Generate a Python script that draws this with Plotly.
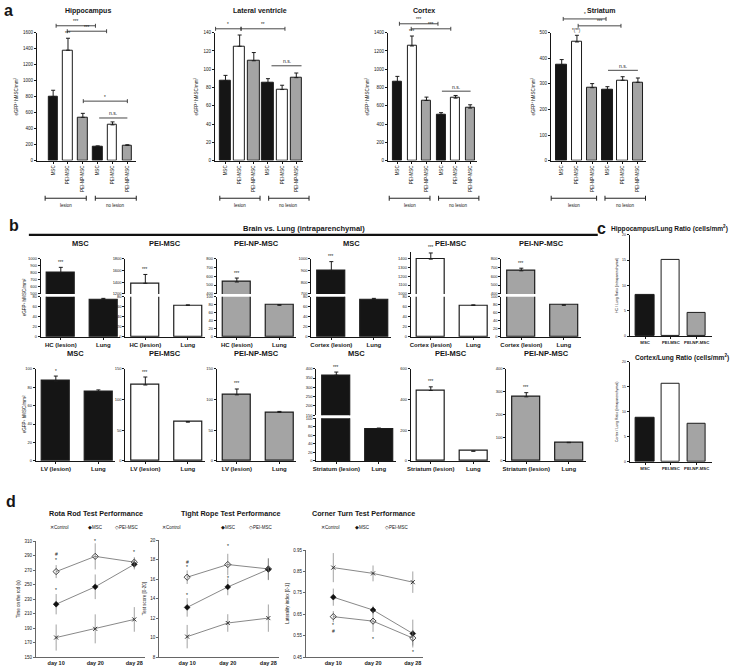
import plotly.graph_objects as go

W, H = 740, 672
FONT = "Liberation Sans, Arial, Helvetica, sans-serif"
INK = "#161616"
BLACK = "#151515"
WHITE = "#ffffff"
GREY = "#a4a4a4"

# ------------------------------------------------------------------ data
group_labels = ["MSC", "PEI-MSC", "PEI-NP-MSC", "MSC", "PEI-MSC", "PEI-NP-MSC"]
cell_types = ["MSC", "PEI-MSC", "PEI-NP-MSC"]
lesion_groups = ["lesion", "no lesion"]

# panel a (lesion MSC, PEI-MSC, PEI-NP-MSC, no lesion MSC, PEI-MSC, PEI-NP-MSC)
hippocampus = [802, 1381, 541, 174, 447, 190]
hippocampus_err = [78, 150, 50, 10, 37, 8]
lateral_ventricle = [87.5, 125.2, 109.3, 85.4, 77.8, 90.8]
lateral_ventricle_err = [5.8, 12.3, 9.0, 4.3, 4.7, 5.1]
cortex = [865, 1255, 658, 503, 684, 575]
cortex_err = [57, 109, 37, 22, 29, 36]
striatum = [375, 464, 285, 278, 314, 306]
striatum_err = [20, 26, 16, 11, 14, 17]

# panel b (MSC, PEI-MSC, PEI-NP-MSC)
b_hc = [802, 1381, 535]
b_hc_err = [75, 150, 45]
b_cortex = [900, 1395, 662]
b_cortex_err = [75, 70, 30]
b_lv = [86.5, 123.5, 107.5]
b_lv_err = [5.5, 13, 9.5]
b_striatum = [365, 458, 278]
b_striatum_err = [17, 24, 18]
lung = [75, 63, 79]
lung_err = [2, 1, 1.5]
lung_row2 = [75, 63, 79]
lung_row2_err = [2, 1, 1.5]

hc_lung_ratio = [8.2, 15.0, 4.6]
cortex_lung_ratio = [8.85, 15.6, 7.66]

days = ["day 10", "day 20", "day 28"]
treatments = ["Control", "MSC", "PEI-MSC"]
rota_control = [177, 189, 202]
rota_control_err = [18, 20, 17]
rota_msc = [223, 247, 278]
rota_msc_err = [14, 17, 7]
rota_pei = [268, 289, 281]
rota_pei_err = [9, 18, 7]
rope_control = [10.1, 11.5, 12.0]
rope_control_err = [1.2, 0.9, 1.4]
rope_msc = [13.1, 15.2, 17.0]
rope_msc_err = [0.95, 0.85, 1.1]
rope_pei = [16.2, 17.5, 17.05]
rope_pei_err = [0.7, 1.1, 1.1]
corner_control = [0.868, 0.841, 0.800]
corner_control_err = [0.068, 0.037, 0.05]
corner_msc = [0.730, 0.670, 0.560]
corner_msc_err = [0.04, 0.02, 0.065]
corner_pei = [0.639, 0.618, 0.539]
corner_pei_err = [0.026, 0.05, 0.035]

# ------------------------------------------------------------------ helpers
fig = go.Figure()
axes_layout = {}
shapes = []
annotations = []
_n = [0]


def base_axis(**kw):
    d = dict(showline=True, linecolor=INK, linewidth=1, ticks="outside", ticklen=2,
             tickwidth=0.8, tickcolor=INK, showgrid=False, zeroline=False,
             tickfont=dict(size=4.5, color=INK, family=FONT), fixedrange=True)
    d.update(kw)
    return d


def add_axes(x0, x1, top, bottom, xr, yr, xkw=None, ykw=None):
    _n[0] += 1
    s = "" if _n[0] == 1 else str(_n[0])
    xa = base_axis(domain=[x0 / W, x1 / W], range=xr, anchor="y" + s)
    ya = base_axis(domain=[1 - bottom / H, 1 - top / H], range=yr, anchor="x" + s)
    if xkw:
        xa.update(xkw)
    if ykw:
        ya.update(ykw)
    axes_layout["xaxis" + s] = xa
    axes_layout["yaxis" + s] = ya
    return dict(x="x" + s, y="y" + s, xr=xr, yr=yr, hpx=bottom - top, wpx=x1 - x0)


def fx(ax, v):
    return (v - ax["xr"][0]) / (ax["xr"][1] - ax["xr"][0])


def fy(ax, v):
    return (v - ax["yr"][0]) / (ax["yr"][1] - ax["yr"][0])


def text(s, x, y, size=5, bold=False, xref="paper", yref="paper", xanchor="center",
         yanchor="middle", angle=0, color=INK, **kw):
    annotations.append(dict(text=f"<b>{s}</b>" if bold else s, x=x, y=y, xref=xref, yref=yref,
                            xanchor=xanchor, yanchor=yanchor, showarrow=False, textangle=angle,
                            font=dict(size=size, family=FONT, color=color), borderpad=0, **kw))


def ptext(s, px, py, **kw):
    text(s, px / W, 1 - py / H, **kw)


def line(xref, yref, x0, y0, x1, y1, width=1, color="#222"):
    shapes.append(dict(type="line", xref=xref, yref=yref, x0=x0, y0=y0, x1=x1, y1=y1,
                       line=dict(color=color, width=width)))


def add_bars(ax, xs, vals, errs, colors, width, line_w=1):
    fig.add_trace(go.Bar(
        x=xs, y=vals, xaxis=ax["x"], yaxis=ax["y"], width=width,
        marker=dict(color=colors, line=dict(color="#1c1c1c", width=line_w)),
        error_y=dict(type="data", array=errs, arrayminus=[0] * len(errs), symmetric=False,
                     color="#1c1c1c", thickness=1, width=2),
        showlegend=False, hoverinfo="skip"))


def sig_bracket(ax, xa, xb, yv, label, caps=True, size=4.5):
    xd, yd = ax["x"] + " domain", ax["y"] + " domain"
    x0, x1, y0 = fx(ax, xa), fx(ax, xb), fy(ax, yv)
    line(xd, yd, x0, y0, x1, y0, width=0.9, color="#333")
    if caps:
        c = 2.0 / ax["hpx"]
        for xx in (x0, x1):
            line(xd, yd, xx, y0 - c, xx, y0 + c, width=0.9, color="#333")
    text(label, (x0 + x1) / 2, y0, size=size, xref=xd, yref=yd, yanchor="bottom", yshift=0.5)


def sig_above(ax, xv, yv, label, size=4.5, shift=1):
    text(label, xv, yv, size=size, xref=ax["x"], yref=ax["y"], yanchor="bottom", yshift=shift)


def bold(items):
    return [f"<b>{t}</b>" for t in items]


# ------------------------------------------------------------------ panel a
a_colors = [BLACK, WHITE, GREY] * 2
a_specs = [
    ("Hippocampus", hippocampus, hippocampus_err, 33, 133, [-1.1, 5.6], 1600, 200, 0.64, 84,
     [(0.2, 2.85, 1687, "***", True), (0.95, 3.6, 1619, "***", True),
      (2.03, 5.0, 744, "*", True), (3.1, 5.0, 533, "n.s.", False)], "***",
     [(-0.54, 2.23), (2.84, 5.6)]),
    ("Lateral ventricle", lateral_ventricle, lateral_ventricle_err, 212, 301, [-0.75, 5.5], 140, 20, 0.8, 257,
     [(-0.7, 1.1, 144.3, "*", True), (1.1, 4.2, 144.3, "**", True),
      (3.25, 5.37, 103.8, "n.s.", False)], None,
     [(-0.4, 2.44), (3.05, 5.9)]),
    ("Cortex", cortex, cortex_err, 386, 476, [-0.65, 5.5], 1400, 200, 0.62, 422,
     [(0.14, 2.79, 1498, "***", True), (0.95, 3.67, 1443, "***", True),
      (3.06, 5.03, 760, "n.s.", False)], "***",
     [(-0.56, 2.24), (2.83, 5.6)]),
    ("Striatum", striatum, striatum_err, 550, 645, [-0.7, 5.5], 500, 100, 0.68, 600,
     [(0.1, 2.91, 554, "*", True), (1.08, 3.89, 527, "***", True),
      (3.04, 5.0, 353, "n.s.", False)], "*(**)",
     [(-0.69, 2.29), (2.84, 5.5)]),
]
ptext("a", 5, 8, size=16, bold=True)
for (title, vals, errs, x0, x1, xr, ymax, dt, bw, tc, brackets, top_lbl, groups) in a_specs:
    ax = add_axes(x0, x1, 30, 159, xr, [0, ymax],
                  xkw=dict(tickvals=list(range(6)), ticktext=group_labels, tickangle=-90),
                  ykw=dict(tickvals=list(range(0, ymax + 1, dt)),
                           title=dict(text="eGFP<sup>+</sup> hMSC/mm<sup>2</sup>",
                                      font=dict(size=4.5, family=FONT, color=INK), standoff=4)))
    add_bars(ax, list(range(6)), vals, errs, a_colors, bw)
    ptext(title, tc, 8, size=7, bold=True)
    for (xa_, xb_, yv, lbl, caps) in brackets:
        sig_bracket(ax, xa_, xb_, yv, lbl, caps=caps, size=5 if lbl == "n.s." else 4.5)
    if top_lbl:
        sig_above(ax, 1, vals[1] + errs[1], top_lbl)
    xd = ax["x"] + " domain"
    for (g0, g1), glabel in zip(groups, lesion_groups):
        a0, a1 = fx(ax, g0), fx(ax, g1)
        yy = 1 - 197 / H
        line(xd, "paper", a0, yy, a1, yy, width=1, color="#222")
        for aa in (a0, a1):
            line(xd, "paper", aa, yy - 2.5 / H, aa, yy + 2.5 / H, width=1, color="#222")
        text(glabel, (a0 + a1) / 2, 1 - 204 / H, size=4.5, xref=xd, yref="paper")

# ------------------------------------------------------------------ panel b
ptext("b", 10, 225, size=16, bold=True)
ptext("Brain vs. Lung (intraparenchymal)", 302, 228, size=7.5, bold=True)
line("paper", "paper", 25 / W, 1 - 234 / H, 597 / W, 1 - 234 / H, width=2.2, color="#111")

b_colors = [BLACK, WHITE, GREY]
B_XW = 80
B_XR = [-0.47, 1.4]

# (tissue, values, errors, cell type, left px, upper (lo, hi, step, range top), lower)
row1 = [
    ("HC (lesion)", b_hc, b_hc_err, 0, 37, (500, 1000, 100, 1000), (0, 80, 20)),
    ("HC (lesion)", b_hc, b_hc_err, 1, 122, (1200, 1800, 200, 1800), (0, 80, 20)),
    ("HC (lesion)", b_hc, b_hc_err, 2, 214, (400, 800, 100, 800), (0, 100, 20)),
    ("Cortex (lesion)", b_cortex, b_cortex_err, 0, 309, (700, 1000, 100, 1000), (0, 80, 20)),
    ("Cortex (lesion)", b_cortex, b_cortex_err, 1, 409, (1000, 1400, 100, 1475), (0, 80, 20)),
    ("Cortex (lesion)", b_cortex, b_cortex_err, 2, 500, (400, 800, 100, 800), (0, 100, 20)),
]
row2 = [
    ("LV (lesion)", b_lv, b_lv_err, 0, 32, None, (0, 100, 20), "*"),
    ("LV (lesion)", b_lv, b_lv_err, 1, 122, None, (0, 150, 50), "***"),
    ("LV (lesion)", b_lv, b_lv_err, 2, 214, None, (0, 150, 50), "***"),
    ("Striatum (lesion)", b_striatum, b_striatum_err, 0, 314, (150, 400, 50, 400), (0, 100, 20), "***"),
    ("Striatum (lesion)", b_striatum, b_striatum_err, 1, 409, None, (0, 600, 200), "***"),
    ("Striatum (lesion)", b_striatum, b_striatum_err, 2, 505, None, (0, 400, 100), "***"),
]


def b_panel(tissue, vals, errs, lvals, lerrs, ci, x0, upper, lower, top, brk_top, brk_bot,
            bottom, lbl):
    v = [vals[ci], lvals[ci]]
    e = [errs[ci], lerrs[ci]]
    cols = [b_colors[ci]] * 2
    xs = [0, 1]
    lo_top = brk_bot if upper else top
    low = add_axes(x0, x0 + B_XW, lo_top, bottom, B_XR, [lower[0], lower[1]],
                   xkw=dict(tickvals=xs, ticktext=bold([tissue, "Lung"]),
                            tickfont=dict(size=6, family=FONT, color=INK), ticklen=2),
                   ykw=dict(tickvals=list(range(lower[0], lower[1] + 1, lower[2])),
                            tickfont=dict(size=4, family=FONT, color=INK)))
    add_bars(low, xs, v, e, cols, 0.66, line_w=1.2)
    tgt = low
    if upper:
        lo, hi, step, rtop = upper
        # keep the tick "hi" at the panel top; extra headroom extends above it
        up_top = top - (rtop - hi) / (hi - lo) * (brk_top - top)
        up = add_axes(x0, x0 + B_XW, up_top, brk_top, B_XR, [lo, rtop],
                      xkw=dict(showline=False, ticks="", showticklabels=False),
                      ykw=dict(tickvals=list(range(lo, hi + 1, step)),
                               tickfont=dict(size=4, family=FONT, color=INK)))
        add_bars(up, xs, v, e, cols, 0.66, line_w=1.2)
        tgt = up
    sig_above(tgt, 0, v[0] + e[0], lbl, size=4.5, shift=1.5)
    ptext(cell_types[ci], x0 + B_XW / 2, top - 15, size=7.5, bold=True)


for (tissue, vals, errs, ci, x0, upper, lower) in row1:
    b_panel(tissue, vals, errs, lung, lung_err, ci, x0, upper, lower, 258, 293.5, 296.5, 337,
            "***")
for (tissue, vals, errs, ci, x0, upper, lower, lbl) in row2:
    b_panel(tissue, vals, errs, lung_row2, lung_row2_err, ci, x0, upper, lower, 369, 416, 419,
            462, lbl)

ptext("eGFP<sup>+</sup> hMSC/mm<sup>2</sup>", 21, 297, size=4.5, angle=-90)
ptext("eGFP<sup>+</sup> hMSC/mm<sup>2</sup>", 21, 415, size=4.5, angle=-90)

# ------------------------------------------------------------------ panel c
ptext("c", 601, 228, size=16, bold=True)
c_specs = [
    ("Hippocampus/Lung Ratio (cells/mm<sup>2</sup>)", hc_lung_ratio, 234, 336,
     "HC / Lung Ratio (intraparenchymal)", 609, 228, "left"),
    ("Cortex/Lung Ratio (cells/mm<sup>2</sup>)", cortex_lung_ratio, 362, 463,
     "Cortex / Lung Ratio (intraparenchymal)", 682, 358, "center"),
]
for (title, vals, top, bottom, ytitle, tx, ty, tanch) in c_specs:
    ax = add_axes(629, 712, top, bottom, [-0.6, 2.6], [0, 20],
                  xkw=dict(tickvals=[0, 1, 2], ticktext=bold(cell_types),
                           tickfont=dict(size=4.3, family=FONT, color=INK)),
                  ykw=dict(tickvals=[0, 5, 10, 15, 20],
                           tickfont=dict(size=3.5, family=FONT, color=INK),
                           title=dict(text=ytitle, font=dict(size=3.5, family=FONT, color=INK),
                                      standoff=3)))
    fig.add_trace(go.Bar(x=[0, 1, 2], y=vals, xaxis=ax["x"], yaxis=ax["y"], width=0.7,
                         marker=dict(color=b_colors, line=dict(color="#1c1c1c", width=1)),
                         showlegend=False, hoverinfo="skip"))
    ptext(title, tx, ty, size=6.6, bold=True, xanchor=tanch)

# ------------------------------------------------------------------ panel d
ptext("d", 7, 503, size=16, bold=True)
d_specs = [
    ("Rota Rod Test Performance", 32, 142, 543, 660, [-0.52, 2.28], [150, 310],
     list(range(150, 311, 20)), [str(v) for v in range(150, 311, 20)],
     "Time on the rod (s)",
     (rota_control, rota_control_err), (rota_msc, rota_msc_err), (rota_pei, rota_pei_err),
     [(0, 292, "#"), (0, 284.4, "*"), (0, 243, "*"), (1, 316.7, "#"), (1, 310, "*"), (2, 295, "*")],
     93, (56, 92, 124)),
    ("Tight Rope Test Performance", 156, 276, 542, 660, [-0.69, 2.25], [8, 20],
     list(range(8, 21, 2)), [str(v) for v in range(8, 21, 2)],
     "Test score [0-20]",
     (rope_control, rope_control_err), (rope_msc, rope_msc_err), (rope_pei, rope_pei_err),
     [(0, 17.77, "#"), (0, 17.2, "*"), (0, 14.37, "*"), (1, 20.07, "#"), (1, 19.43, "*"),
      (1, 16.1, "*")],
     228, (168, 226, 258)),
    ("Corner Turn Test Performance", 303.5, 421, 552, 660, [-0.69, 2.25], [0.45, 0.95],
     [0.45, 0.55, 0.65, 0.75, 0.85, 0.95], ["0.45", "0.55", "0.65", "0.75", "0.85", "0.95"],
     "Laterality index [0-1]",
     (corner_control, corner_control_err), (corner_msc, corner_msc_err), (corner_pei, corner_pei_err),
     [(0, 0.602, "*"), (0, 0.571, "#"), (1, 0.535, "*"), (2, 0.476, "*")],
     361, (328, 360, 395)),
]
markers = [
    dict(symbol="x-thin", size=4, color="#333", line=dict(width=1, color="#333")),
    dict(symbol="diamond", size=4.5, color="#111", line=dict(width=0.5, color="#111")),
    dict(symbol="diamond-open", size=4.8, color="#333", line=dict(width=0.9, color="#333")),
]
legend_symbols = ["✕", "◆", "◇"]
for (title, x0, x1, top, bottom, xr, yr, tv, tt, ytitle, s_ctrl, s_msc, s_pei, sigs, tcx,
     legx) in d_specs:
    ax = add_axes(x0, x1, top, bottom, xr, yr,
                  xkw=dict(tickvals=[0, 1, 2], ticktext=bold(days), linecolor="#666",
                           tickcolor="#666", tickfont=dict(size=5.5, family=FONT, color=INK),
                           ticks=""),
                  ykw=dict(tickvals=tv, ticktext=tt, linecolor="#666", tickcolor="#666",
                           tickfont=dict(size=4.5, family=FONT, color=INK),
                           title=dict(text=ytitle, font=dict(size=4.5, family=FONT, color=INK),
                                      standoff=3)))
    for (vals, errs), mk in zip([s_ctrl, s_msc, s_pei], markers):
        fig.add_trace(go.Scatter(
            x=[0, 1, 2], y=vals, xaxis=ax["x"], yaxis=ax["y"], mode="lines+markers",
            line=dict(color="#6a6a6a", width=0.8), marker=mk,
            error_y=dict(type="data", array=errs, color="#7a7a7a", thickness=0.7, width=0),
            showlegend=False, hoverinfo="skip", cliponaxis=False))
    for (xv, yv, s) in sigs:
        text(s, xv, yv, size=5, xref=ax["x"], yref=ax["y"])
    ptext(title, tcx, 515, size=7.2, bold=True)
    for lx, sym, name in zip(legx, legend_symbols, treatments):
        ptext(f"{sym}{name}", lx, 529, size=4.5)

fig.update_layout(
    width=W, height=H, margin=dict(l=0, r=0, t=0, b=0),
    paper_bgcolor="white", plot_bgcolor="white", showlegend=False,
    font=dict(family=FONT, color=INK), bargap=0,
    shapes=shapes, annotations=annotations, **axes_layout)

fig.write_html("out.html", config={"displayModeBar": False},
               post_script="document.body.style.margin='0px';")
